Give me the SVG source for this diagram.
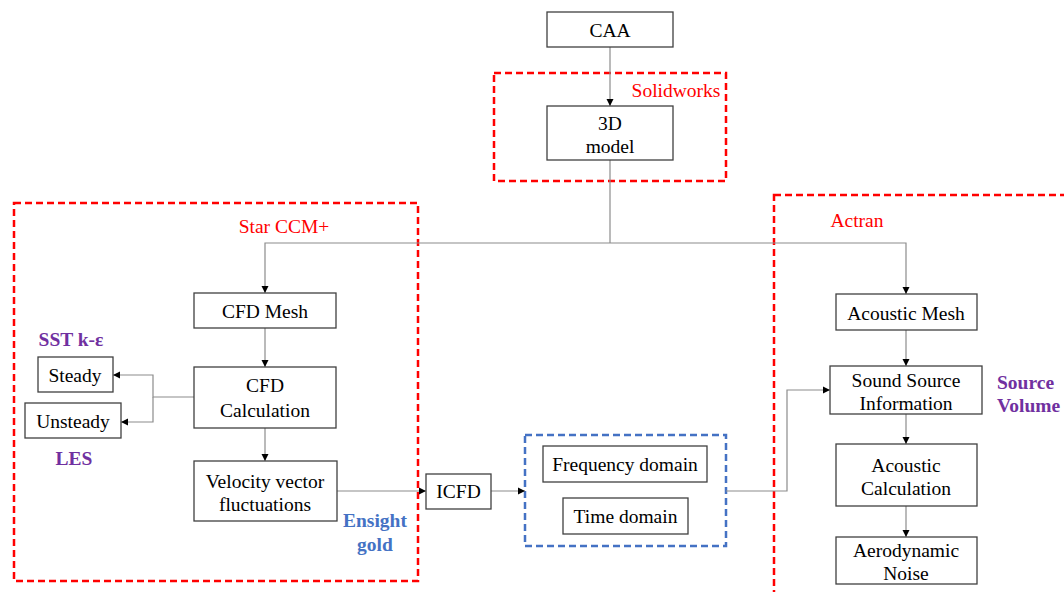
<svg xmlns="http://www.w3.org/2000/svg" width="1064" height="592" viewBox="0 0 1064 592">
<style>
.bg{fill:#ffffff}
.box{fill:#ffffff;stroke:#404040;stroke-width:1.3}
.t{font-family:"Liberation Serif","Times New Roman",serif;font-size:19.5px;fill:#000;text-anchor:middle}
.red{fill:none;stroke:#ff0000;stroke-width:2.5;stroke-dasharray:7 4}
.blue{fill:none;stroke:#4472c4;stroke-width:2.5;stroke-dasharray:7 4}
.rl{font-family:"Liberation Serif","Times New Roman",serif;font-size:19.5px;fill:#ff0000;text-anchor:middle}
.pl{font-family:"Liberation Serif","Times New Roman",serif;font-size:19.5px;font-weight:bold;fill:#7030a0;text-anchor:middle}
.bl{font-family:"Liberation Serif","Times New Roman",serif;font-size:19.5px;font-weight:bold;fill:#4472c4;text-anchor:middle}
.c{fill:none;stroke:#8c8c8c;stroke-width:1.2}
.a{marker-end:url(#arr)}
</style>
<defs>
<marker id="arr" markerUnits="userSpaceOnUse" markerWidth="8" markerHeight="8" refX="7" refY="4" orient="auto">
<path d="M0,0.5 L7,4 L0,7.5 z" fill="#000"/>
</marker>
</defs>
<rect class="bg" x="0" y="0" width="1064" height="592"/>

<g id="groups">
<rect class="red" x="494" y="73" width="232" height="108"/>
<text class="rl" x="676" y="97">Solidworks</text>
<rect class="red" x="14" y="203" width="404" height="378"/>
<text class="rl" x="284" y="233">Star CCM+</text>
<rect class="red" x="774" y="195" width="320" height="420"/>
<text class="rl" x="857" y="227">Actran</text>
<rect class="blue" x="525" y="435" width="201" height="111"/>
</g>

<g id="connectors">
<path class="c a" d="M610,47 V106"/>
<path class="c" d="M610,160 V243"/>
<path class="c a" d="M610,243 H265 V293"/>
<path class="c a" d="M610,243 H906 V294"/>
<path class="c a" d="M265,328 V367"/>
<path class="c a" d="M194,397 H153 V375 H113"/>
<path class="c a" d="M153,397 V422 H121"/>
<path class="c a" d="M265,428 V461"/>
<path class="c a" d="M337,491 H426"/>
<path class="c a" d="M491,491 H525"/>
<path class="c a" d="M726,491 H787 V390 H830"/>
<path class="c a" d="M906,330 V366"/>
<path class="c a" d="M906,414 V444"/>
<path class="c a" d="M906,506 V537"/>
</g>

<g id="caa"><rect class="box" x="547" y="12" width="126" height="35"/><text class="t" x="610" y="37">CAA</text></g>
<g id="model3d"><rect class="box" x="547" y="106" width="126" height="54"/><text class="t" x="610" y="130">3D</text><text class="t" x="610" y="153">model</text></g>
<g id="cfdmesh"><rect class="box" x="194" y="293" width="142" height="35"/><text class="t" x="265" y="318">CFD Mesh</text></g>
<g id="cfdcalc"><rect class="box" x="194" y="367" width="142" height="61"/><text class="t" x="265" y="392">CFD</text><text class="t" x="265" y="417">Calculation</text></g>
<g id="velocity"><rect class="box" x="194" y="461" width="143" height="60"/><text class="t" x="265" y="488">Velocity vector</text><text class="t" x="265" y="511">fluctuations</text></g>
<g id="steady"><rect class="box" x="38" y="357" width="75" height="35"/><text class="t" x="75" y="382">Steady</text></g>
<g id="unsteady"><rect class="box" x="25" y="403" width="96" height="35"/><text class="t" x="73" y="428">Unsteady</text></g>
<g id="sst"><text class="pl" x="71" y="346">SST k-ε</text></g>
<g id="les"><text class="pl" x="74" y="465">LES</text></g>
<g id="ensight"><text class="bl" x="375" y="527">Ensight</text><text class="bl" x="375" y="551">gold</text></g>
<g id="icfd"><rect class="box" x="426" y="474" width="65" height="35"/><text class="t" x="458.5" y="498">ICFD</text></g>
<g id="freq"><rect class="box" x="543" y="446" width="164" height="36"/><text class="t" x="625" y="471">Frequency domain</text></g>
<g id="time"><rect class="box" x="563" y="498" width="125" height="36"/><text class="t" x="625.5" y="523">Time domain</text></g>
<g id="acmesh"><rect class="box" x="836" y="294" width="141" height="36"/><text class="t" x="906" y="320">Acoustic Mesh</text></g>
<g id="sound"><rect class="box" x="830" y="366" width="152" height="48"/><text class="t" x="906" y="387">Sound Source</text><text class="t" x="906" y="410">Information</text></g>
<g id="srcvol"><text class="pl" x="997" y="389" style="text-anchor:start">Source</text><text class="pl" x="997" y="412" style="text-anchor:start">Volume</text></g>
<g id="accalc"><rect class="box" x="836" y="444" width="141" height="62"/><text class="t" x="906" y="472">Acoustic</text><text class="t" x="906" y="495">Calculation</text></g>
<g id="aero"><rect class="box" x="836" y="537" width="141" height="47"/><text class="t" x="906" y="557">Aerodynamic</text><text class="t" x="906" y="580">Noise</text></g>
</svg>
